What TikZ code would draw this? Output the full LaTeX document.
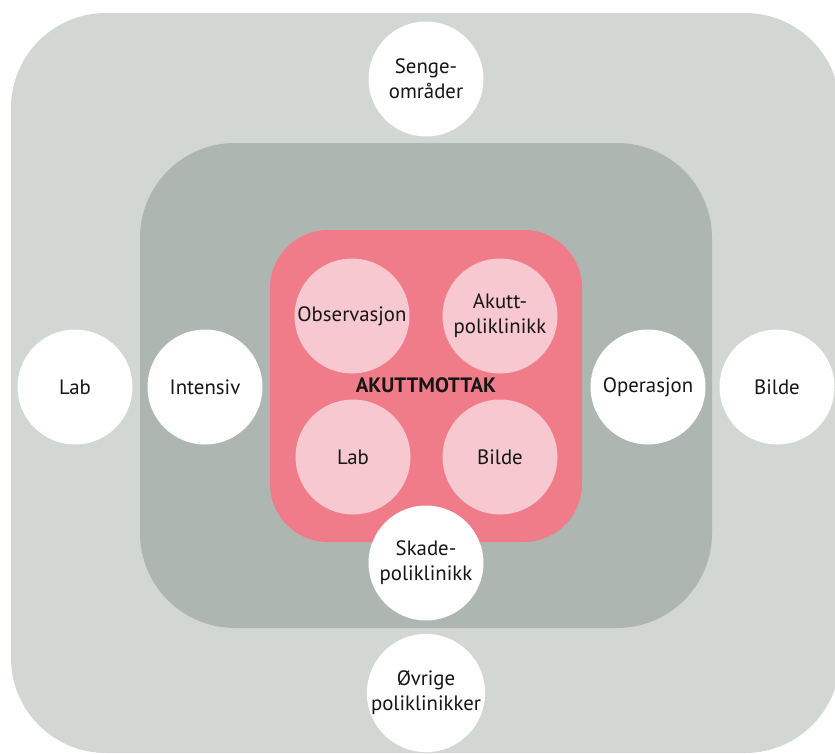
\documentclass[tikz,border=0pt]{standalone}
\usepackage{fontspec}
\setmainfont{PT Sans}
\begin{document}
\begin{tikzpicture}[x=1pt,y=-1pt,
  outerzone/.style={fill=zoneA},
  midzone/.style={fill=zoneB},
  corezone/.style={fill=coreP},
  unit/.style={circle,fill=white,minimum size=115pt,inner sep=0pt,align=center,
    font=\fontsize{20.8}{25}\selectfont,text=ink},
  subunit/.style={unit,fill=coreL},
]
\definecolor{zoneA}{HTML}{D2D7D3}
\definecolor{zoneB}{HTML}{ADB6B1}
\definecolor{coreP}{HTML}{F07B89}
\definecolor{coreL}{HTML}{F7C8CF}
\definecolor{ink}{HTML}{161616}
\useasboundingbox (0,0) rectangle (835,753);
\begin{scope}
  \clip (0,0) rectangle (835,753);
  % nested zones
  \fill[outerzone,rounded corners=95pt] (11,13) rectangle (840,753);
  \fill[midzone,rounded corners=95pt] (140,143) rectangle (712,628);
  \fill[corezone,rounded corners=58pt] (270,230) rectangle (582,542);
  % core units
  \node[subunit] (obs) at (352,316) {Observasjon};
  \node[subunit] (akp) at (500,316) {Akutt-\\poliklinikk};
  \node[subunit] (ilab) at (353,457) {Lab};
  \node[subunit] (ibil) at (500,457) {Bilde};
  \node[font=\bfseries\fontsize{20.8}{24}\selectfont,text=ink] (core) at (426,385) {AKUTTMOTTAK};
  % surrounding units
  \node[unit] (seng) at (426,79) {Senge-\\områder};
  \node[unit] (olab) at (75,387) {Lab};
  \node[unit] (int) at (205,387) {Intensiv};
  \node[unit] (op) at (648,387) {Operasjon};
  \node[unit] (obil) at (777,387) {Bilde};
  \node[unit] (skade) at (426,563) {Skade-\\poliklinikk};
  \node[unit] (ovr) at (426,693) {Øvrige\\poliklinikker};
\end{scope}
\end{tikzpicture}
\end{document}
